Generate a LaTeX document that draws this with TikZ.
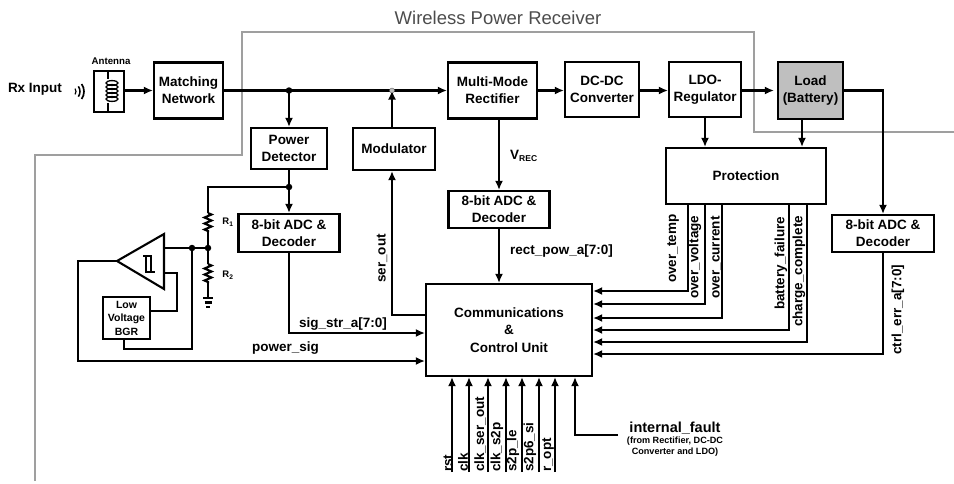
\documentclass[tikz,border=0pt]{standalone}
\usepackage{fontspec}
\setmainfont{Liberation Sans}
\usetikzlibrary{arrows.meta,decorations.pathmorphing}
\tikzset{
  wire/.style={line width=2.1pt},
  >={Latex[length=9pt,width=8pt]},
  box/.style={draw,wire,inner sep=0pt,align=center,font=\fontsize{13.5}{17}\selectfont\bfseries},
  lab/.style={inner sep=0pt,font=\fontsize{13.5}{16}\selectfont\bfseries},
  vlab/.style={lab,rotate=90,anchor=west},
  dot/.style={circle,fill=black,inner sep=0pt,minimum size=6.5pt},
  res/.style={wire,decorate,decoration={zigzag,segment length=6pt,amplitude=3.5pt}}
}
\begin{document}
\begin{tikzpicture}[x=1pt,y=-1pt]
\useasboundingbox (0,0) rectangle (954,483);
\draw[line width=1.2pt,color=gray!75] (35,481) -- (35,155) -- (242,155) -- (242,32) -- (754,32) -- (754,132) -- (954,132);
\node[lab,font=\fontsize{18.5}{20}\selectfont,color=black!70] (title) at (498,18) {Wireless Power Receiver};

\node[box,minimum width=30pt,minimum height=41pt] (ant) at (109,91.5) {};
\node[box,minimum width=69pt,minimum height=56pt] (match) at (188.5,90.5) {Matching\\Network};
\node[box,minimum width=76pt,minimum height=41pt] (pdet) at (289,148.5) {Power\\Detector};
\node[box,minimum width=101pt,minimum height=38pt] (adcsig) at (289,233) {8-bit ADC \&\\Decoder};
\node[box,minimum width=82pt,minimum height=42pt] (mod) at (394,149) {Modulator};
\node[box,minimum width=89pt,minimum height=56pt] (rect) at (492.5,90.5) {Multi-Mode\\Rectifier};
\node[box,minimum width=74pt,minimum height=55pt] (dcdc) at (602,89.5) {DC-DC\\Converter};
\node[box,minimum width=101pt,minimum height=37pt] (adcrect) at (499,209.5) {8-bit ADC \&\\Decoder};
\node[box,minimum width=72pt,minimum height=55pt] (ldo) at (705,89.5) {LDO-\\Regulator};
\node[box,fill=black!25,minimum width=65pt,minimum height=57pt] (load) at (810.5,90.5) {Load\\(Battery)};
\node[box,minimum width=160pt,minimum height=56pt] (prot) at (746,176) {Protection};
\node[box,minimum width=102pt,minimum height=37pt] (adcctrl) at (883,233.5) {8-bit ADC \&\\Decoder};
\node[box,minimum width=166pt,minimum height=92pt,font=\fontsize{13.5}{17.5}\selectfont\bfseries] (ccu) at (509,330) {Communications\\\&\\Control Unit};
\node[box,minimum width=47pt,minimum height=42pt,font=\fontsize{10.5}{13.5}\selectfont\bfseries] (bgr) at (126.5,318) {Low\\Voltage\\BGR};

\coordinate (tap) at (289,90.5);
\coordinate (modtap) at (392,90.5);
\coordinate (rtap) at (289,187);
\coordinate (serc) at (392,315);
\coordinate (sigc) at (289,333);
\coordinate (powa) at (78,261);
\coordinate (powb) at (78,361);
\coordinate (loadp) at (802,150);
\coordinate (ctrlc) at (883,354);
\coordinate (faultc) at (575,435);
\coordinate (faulte) at (618,435);
\coordinate (amptip) at (117,261);
\coordinate (amptop) at (164,234);
\coordinate (ampbot) at (164,289);
\coordinate (ampin) at (164,248);
\coordinate (ampref) at (164,273);
\coordinate (bgrr) at (177,311);
\coordinate (vmid) at (192,248);
\coordinate (bgrb) at (124,349);
\coordinate (ratop) at (208,213);
\coordinate (rabot) at (208,232);
\coordinate (rmid) at (208,248);
\coordinate (rbtop) at (208,264);
\coordinate (rbbot) at (208,283);
\coordinate (gnd) at (208,298);

\draw[wire,->] (ant.east |- match.west) -- (match.west);
\draw[wire,->] (match.east) -- (rect.west);
\draw[wire,->] (rect.east) -- (rect.east -| dcdc.west);
\draw[wire,->] (dcdc.east |- rect.east) -- (ldo.west |- rect.east);
\draw[wire,->,shorten >=3pt] (ldo.east |- rect.east) -- (load.west);
\draw[wire,->] (tap) -- (pdet.north);
\draw[wire,->] (pdet.south) -- (adcsig.north);
\draw[wire] (rtap) -| (ratop);
\draw[res] (ratop) -- (rabot);
\draw[wire] (rabot) -- (rmid);
\draw[wire] (rmid) -- (rbtop);
\draw[res] (rbtop) -- (rbbot);
\draw[wire] (rbbot) -- (gnd);
\draw[wire] (203,298) -- (213,298);
\draw[wire] (204.5,302.5) -- (211.5,302.5);
\draw[wire] (206,307) -- (210,307);
\draw[wire] (ampin) -- (rmid);
\draw[wire,line join=miter] (amptip) -- (amptop) -- (ampbot) -- cycle;
\draw[wire] (ampref) -| (bgrr) -- (bgrr -| bgr.east);
\draw[wire] (vmid) |- (bgrb) -- (bgrb |- bgr.south);
\draw[wire] (143,256) -- (152,256);
\draw[wire] (146,256) -- (146,272) -- (155,272);
\draw[wire] (151,256) -- (151,272);
\draw[wire,->] (amptip) -- (powa) -- (powb) -- (powb -| ccu.west);
\draw[wire,->] (adcsig.south) -- (sigc) -- (sigc -| ccu.west);
\draw[wire,->] (ccu.west |- serc) -- (serc) -- (serc |- mod.south);
\draw[wire,->] (modtap |- mod.north) -- (modtap);
\draw[wire,->] (adcrect.north |- rect.south) -- (adcrect.north);
\draw[wire,->] (adcrect.south) -- (adcrect.south |- ccu.north);
\draw[wire,->] (ldo.south) -- (ldo.south |- prot.north);
\draw[wire,->] (loadp |- load.south) -- (loadp |- prot.north);
\draw[wire,->] (load.east) -| (adcctrl.north);
\draw[wire,->] (adcctrl.south) -- (ctrlc) -- (ctrlc -| ccu.east);
\draw[wire,->] (faulte) -- (faultc) -- (faultc |- ccu.south);
\foreach \x/\y in {688/291,705/304,722/318,789/330,807/342}
  {
  \coordinate (pr\x) at (\x,\y);
  \draw[wire,->] (pr\x |- prot.south) -- (pr\x) -- (pr\x -| ccu.east);
  }
\foreach \x/\tx/\name in {452/448/rst,469/463/clk,488/480/clk\_ser\_out,506/497/clk\_s2p,522/513/s2p\_le,539/530/s2p6\_si,555/548/r\_opt}
  {
  \coordinate (in\x) at (\x,472);
  \draw[wire,->] (in\x) -- (in\x |- ccu.south);
  \node[vlab] (lab\x) at (\tx,472) {\name};
  }

\node[dot] (tapdot) at (tap) {};
\node[dot] (rtapdot) at (rtap) {};
\node[dot] (vmiddot) at (vmid) {};
\node[dot] (rmiddot) at (rmid) {};
\node[circle,draw=black!60,fill=black!25,inner sep=0pt,minimum size=5pt] (modtapdot) at (modtap) {};

\draw[line width=1.2pt] (108,71) -- (108,79);
\draw[line width=1.2pt] (108,103) -- (108,112);
\foreach \y in {83,87,91,95,99}
  \draw[line width=1.3pt] (112,\y) ellipse (6pt and 2.4pt);
\foreach \r/\w in {5/1.2,9/1.5,13/1.7}
  \draw[line width=\w pt] (71,91.5) ++(-35:\r pt) arc[start angle=-35,end angle=35,radius=\r pt];

\node[lab] (rxin) at (35,89) {Rx Input};
\node[lab,font=\fontsize{9.7}{11}\selectfont\bfseries] (antlab) at (111,61) {Antenna};
\node[lab,font=\fontsize{9.5}{11}\selectfont\bfseries] (r1lab) at (228,222) {R\textsubscript{1}};
\node[lab,font=\fontsize{9.5}{11}\selectfont\bfseries] (r2lab) at (228,275) {R\textsubscript{2}};
\node[lab,anchor=west] (vrec) at (510,156) {V\raisebox{-2pt}{\fontsize{8.5}{10}\selectfont REC}};
\node[lab,anchor=west] (rectlab) at (510,251) {rect\_pow\_a[7:0]};
\node[lab,anchor=west] (siglab) at (299,324) {sig\_str\_a[7:0]};
\node[lab,anchor=west] (powlab) at (252,348) {power\_sig};
\node[vlab] (serlab) at (382,283) {ser\_out};
\node[vlab] (templab) at (673,283) {over\_temp};
\node[vlab] (voltlab) at (695,299) {over\_voltage};
\node[vlab] (currlab) at (716,299) {over\_current};
\node[vlab] (batlab) at (781,310) {battery\_failure};
\node[vlab] (chglab) at (799,327) {charge\_complete};
\node[vlab] (ctrllab) at (898,355) {ctrl\_err\_a[7:0]};
\node[lab,font=\fontsize{14.5}{16}\selectfont\bfseries] (faultlab) at (675,428) {internal\_fault};
\node[lab,align=center,font=\fontsize{9.1}{11}\selectfont\bfseries,anchor=north] (faultsub) at (675,437) {(from Rectifier, DC-DC\\Converter and LDO)};
\end{tikzpicture}
\end{document}
